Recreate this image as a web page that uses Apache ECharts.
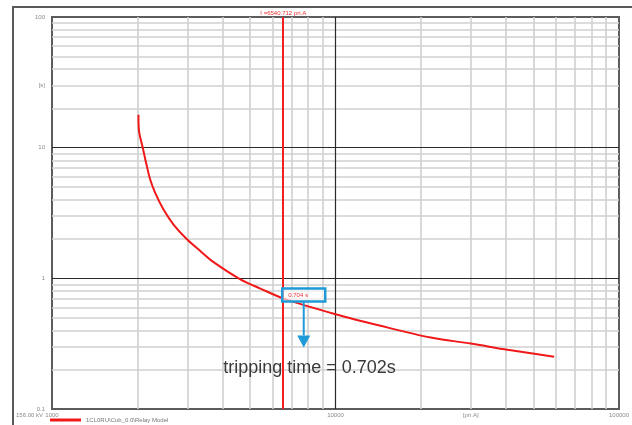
<!DOCTYPE html>
<html><head><meta charset="utf-8">
<script src="https://cdn.jsdelivr.net/npm/echarts@6/dist/echarts.min.js"></script>
<style>html,body{margin:0;padding:0;background:#fff}#c{width:632px;height:425px}</style>
</head><body><div id="c"></div>
<script>
// ---- data ----
const currents = [2018, 2028, 2091, 2148, 2220, 2312, 2474, 2683, 2992, 3334, 3715, 4617, 5432, 6541, 10000, 14420, 21660, 29990, 40440, 59060];
const times    = [17.86, 13.32, 9.95, 7.64, 5.70, 4.51, 3.36, 2.58, 1.99, 1.62, 1.33, 0.983, 0.835, 0.702, 0.531, 0.433, 0.352, 0.317, 0.284, 0.251];
const xMinorLines = [2000, 3000, 4000, 5000, 6000, 7000, 8000, 9000, 20000, 30000, 40000, 50000, 60000, 70000, 80000, 90000];
const xMajorLines = [10000];
const yMinorLines = [0.2, 0.3, 0.4, 0.5, 0.6, 0.7, 0.8, 0.9, 2, 3, 4, 5, 6, 7, 8, 9, 20, 30, 40, 50, 60, 70, 80, 90];
const yMajorLines = [1, 10];
const xRange = [1000, 100000];
const yRange = [0.1, 100];
const seriesName = '1CL0RU\\Cub_0.0\\Relay Model';
const tripCurrent = 6540.712;
const tripTime = 0.702;
const pickupLabel = 'I =6540.712 pri.A';
const boxLabel = '0.704 s';
const annotation = 'tripping time = 0.702s';
const voltageLabel = '156.00 kV';
const xUnit = '[pri.A]', xUnitAt = 30000;
const yUnit = '[s]', yUnitAt = 30;

const FONT = '"Liberation Sans", Arial, sans-serif';
const chart = echarts.init(document.getElementById('c'), null, {renderer: 'canvas'});
const fmt = v => String(+(+v).toPrecision(6));

const lineMarks = (xs, ys, color, width) => ({
  silent: true, symbol: ['none', 'none'], animation: false,
  label: {show: false},
  lineStyle: {color: color, width: width, type: 'solid'},
  emphasis: {disabled: true},
  data: xs.map(v => ({xAxis: v})).concat(ys.map(v => ({yAxis: v})))
});

chart.setOption({
  animation: false,
  textStyle: {fontFamily: FONT},
  grid: {left: 52, right: 13, top: 17, bottom: 16, show: true, borderColor: '#5c5c5c', borderWidth: 2, backgroundColor: 'transparent'},
  legend: {
    data: [seriesName], left: 50, top: 417, itemWidth: 31, itemHeight: 3, icon: 'rect', itemGap: 4,
    textStyle: {fontSize: 6, color: '#777', fontFamily: FONT}, padding: 0
  },
  xAxis: {
    type: 'log', logBase: 10, min: xRange[0], max: xRange[1],
    axisLine: {show: false}, axisTick: {show: false}, splitLine: {show: false},
    axisLabel: {fontSize: 6, color: '#8a8a8a', margin: 3, formatter: fmt, showMinLabel: true, showMaxLabel: true}
  },
  yAxis: {
    type: 'log', logBase: 10, min: yRange[0], max: yRange[1],
    axisLine: {show: false}, axisTick: {show: false}, splitLine: {show: false},
    axisLabel: {fontSize: 6, color: '#8a8a8a', margin: 7, formatter: fmt, showMinLabel: true, showMaxLabel: true}
  },
  series: [
    {type: 'line', name: 'minorGrid', data: [], silent: true, z: 1, markLine: lineMarks(xMinorLines, yMinorLines, '#d0d0d0', 1.6)},
    {type: 'line', name: 'majorGrid', data: [], silent: true, z: 2, markLine: lineMarks(xMajorLines, yMajorLines, '#2a2a2a', 1.2)},
    {
      type: 'line', name: seriesName, z: 5,
      data: currents.map((c, i) => [c, times[i]]),
      showSymbol: false, symbol: 'none', smooth: 0.3,
      lineStyle: {color: '#f01818', width: 2}, itemStyle: {color: '#f01818'},
      markLine: {
        silent: true, symbol: ['none', 'none'], animation: false,
        lineStyle: {color: '#f42020', width: 2, type: 'solid'},
        label: {show: true, position: 'end', formatter: pickupLabel, color: '#f03030', fontSize: 6, distance: 1, fontFamily: FONT},
        data: [{xAxis: tripCurrent}]
      }
    }
  ]
});

function drawAnnotations() {
  const P = chart.convertToPixel({gridIndex: 0}, [tripCurrent, tripTime]);
  const ys = chart.convertToPixel({gridIndex: 0}, [xRange[0], yUnitAt]);
  const xs = chart.convertToPixel({gridIndex: 0}, [xUnitAt, yRange[0]]);
  const blue = '#1f9ad8';
  const ax = P[0] + 20.5;
  chart.setOption({graphic: [
    {type: 'rect', silent: true, z: 0, shape: {x: 13, y: 7, width: 640, height: 440}, style: {fill: 'none', stroke: '#5a5a5a', lineWidth: 2}},
    {type: 'text', silent: true, z: 10, x: 16, y: 412, style: {text: voltageLabel, fontSize: 6, fill: '#8a8a8a', fontFamily: FONT}},
    {type: 'text', silent: true, z: 10, x: ys[0] - 7, y: ys[1], style: {text: yUnit, fontSize: 6, fill: '#8a8a8a', align: 'right', verticalAlign: 'middle', fontFamily: FONT}},
    {type: 'text', silent: true, z: 10, x: xs[0], y: xs[1] + 3, style: {text: xUnit, fontSize: 6, fill: '#8a8a8a', align: 'center', verticalAlign: 'top', fontFamily: FONT}},
    {type: 'rect', silent: true, z: 20, shape: {x: P[0] - 1, y: P[1] - 10, width: 43, height: 13}, style: {fill: 'rgba(255,255,255,0.6)', stroke: blue, lineWidth: 2.5}},
    {type: 'text', silent: true, z: 21, x: P[0] + 5, y: P[1] - 3.5, style: {text: boxLabel, fontSize: 6, fill: '#f03030', verticalAlign: 'middle', fontFamily: FONT}},
    {type: 'line', silent: true, z: 20, shape: {x1: ax, y1: P[1] + 3, x2: ax, y2: P[1] + 37}, style: {stroke: blue, lineWidth: 2}},
    {type: 'polygon', silent: true, z: 20, shape: {points: [[ax - 6.5, P[1] + 37], [ax + 6.5, P[1] + 37], [ax, P[1] + 49]]}, style: {fill: blue}},
    {type: 'text', silent: true, z: 22, x: P[0] - 60, y: P[1] + 70, style: {text: annotation, fontSize: 18, fill: '#3a3a3a', verticalAlign: 'middle', fontFamily: FONT}}
  ]});
}
drawAnnotations();
</script>
</body></html>
